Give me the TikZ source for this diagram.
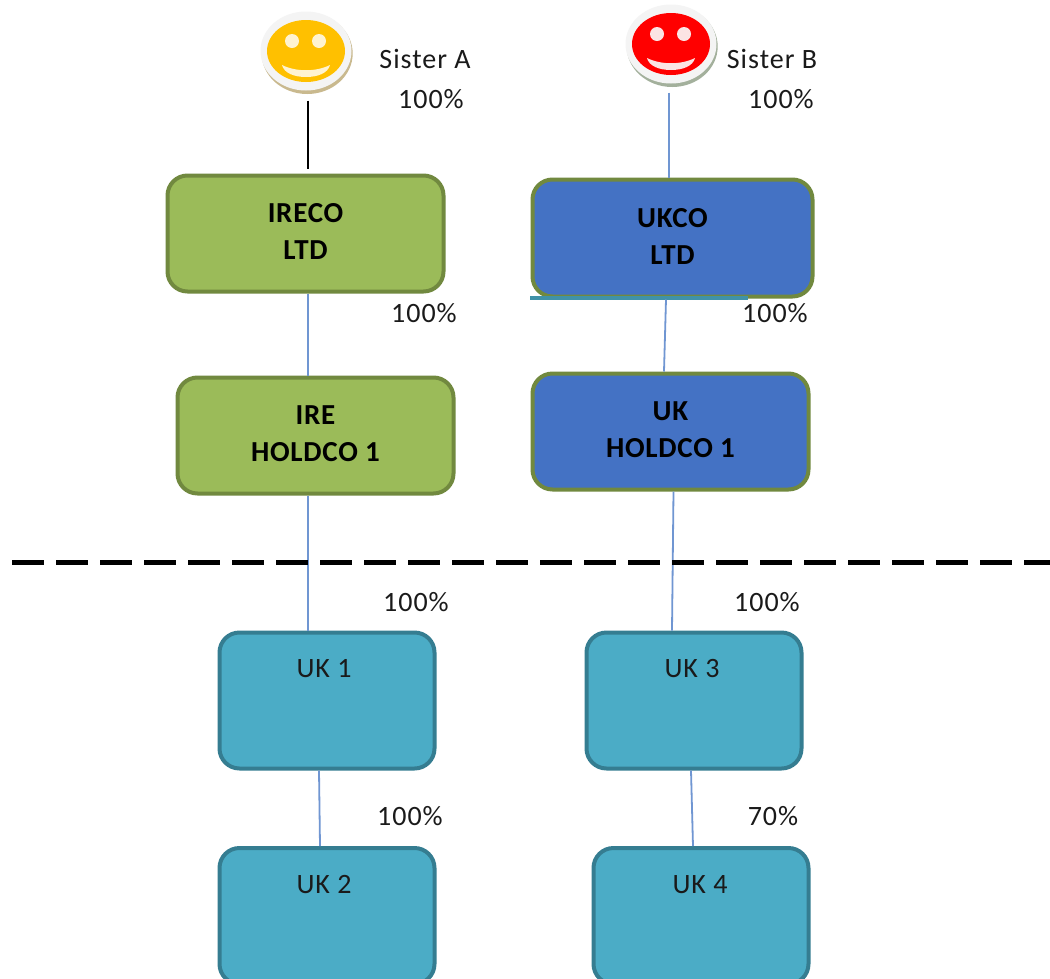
\documentclass[tikz,border=0pt]{standalone}
\usetikzlibrary{shapes.geometric}
\usepackage{fontspec}
\setmainfont{Carlito}
\newfontfamily\lblfont[LetterSpace=3.5]{Carlito}
\newfontfamily\boldlbl[LetterSpace=2.5]{Carlito Bold}
\definecolor{grnfill}{HTML}{9BBB59}
\definecolor{grnline}{HTML}{71893F}
\definecolor{bluefill}{HTML}{4472C4}
\definecolor{tealfill}{HTML}{4BACC6}
\definecolor{tealline}{HTML}{357D91}
\definecolor{connblue}{HTML}{7096D2}
\definecolor{txt}{HTML}{1A1A1A}
\definecolor{facea}{HTML}{FFC000}
\definecolor{faceb}{HTML}{FF0000}
\definecolor{rima}{HTML}{C9B98E}
\definecolor{rimb}{HTML}{A3B09C}
\definecolor{disccol}{HTML}{F4F4F4}
\definecolor{featcola}{HTML}{FFF3D0}
\definecolor{featcolb}{HTML}{FBE4E4}
\tikzset{
  box/.style={rounded corners=20pt,line width=4pt,inner sep=0pt,align=center,text=black},
  greenbox/.style={box,draw=grnline,fill=grnfill,font=\fontsize{29}{37}\boldlbl},
  bluebox/.style={box,draw=grnline,fill=bluefill,font=\fontsize{29}{37}\boldlbl},
  tealbox/.style={box,draw=tealline,fill=tealfill,minimum width=215pt,minimum height=136pt},
  pct/.style={font=\fontsize{28}{30}\lblfont,text=txt,inner sep=0pt},
  conn/.style={draw=connblue,line width=1.8pt},
  disc/.style={ellipse,fill=disccol,draw=none,minimum width=91pt,minimum height=79pt,inner sep=0pt},
}
\newcommand{\smiley}[5]{% name, x, y, face colour, rim colour
  \fill[#5] (#2+1.2,#3+2.5) ellipse (45.5pt and 40.5pt);
  \node[disc,fill=disccol] (#1) at (#2,#3) {};
  \fill[#4] (#2,#3) ellipse (39pt and 31pt);
  \fill[white,fill=featcol#1] (#2-14,#3-10) ellipse (7pt and 7pt);
  \fill[white,fill=featcol#1] (#2+13,#3-10) ellipse (7pt and 7pt);
  \fill[fill=featcol#1] (#2-24,#3+14) .. controls (#2-10,#3+21) and (#2+10,#3+21) .. (#2+24,#3+14)
     .. controls (#2+22,#3+22) and (#2+12,#3+26) .. (#2,#3+26)
     .. controls (#2-12,#3+26) and (#2-22,#3+22) .. (#2-24,#3+14) -- cycle;
}
\colorlet{featcolsistera}{featcola}
\colorlet{featcolsisterb}{featcolb}
\begin{document}
\begin{tikzpicture}[x=1pt,y=-1pt]
\clip (0,0) rectangle (1050,978);
\fill[white] (0,0) rectangle (1050,978);

\smiley{sistera}{306}{51}{facea}{rima}
\smiley{sisterb}{671}{44}{faceb}{rimb}

\node[greenbox,minimum width=276pt,minimum height=116pt] (ireco) at (305.5,233.5) {\raisebox{4pt}{IRECO}\\\raisebox{4pt}{LTD}};
\node[bluebox,minimum width=280pt,minimum height=117pt] (ukco) at (672.5,238) {\raisebox{4pt}{UKCO}\\\raisebox{4pt}{LTD}};
\node[greenbox,minimum width=276pt,minimum height=116pt] (ire) at (315.5,435.5) {\raisebox{4pt}{IRE}\\\raisebox{4pt}{HOLDCO 1}};
\node[bluebox,minimum width=276pt,minimum height=116pt] (ukh) at (670.5,431.5) {\raisebox{4pt}{UK}\\\raisebox{4pt}{HOLDCO 1}};

\node[tealbox] (uk1) at (327,700.5) {};
\node[tealbox] (uk3) at (694,700.5) {};
\node[tealbox] (uk2) at (327,916) {};
\node[tealbox] (uk4) at (701,916) {};
\node[pct] (uk1t) at (324,669) {UK 1};
\node[pct] (uk3t) at (692,669) {UK 3};
\node[pct] (uk2t) at (324,885) {UK 2};
\node[pct] (uk4t) at (700,885) {UK 4};

\coordinate (ukline1) at (530,297.5);
\coordinate (ukline2) at (748,297.5);
\draw[tealfill!85!black,line width=4pt] (ukline1) -- (ukline2);

\draw[black,line width=1.6pt] ([xshift=2pt,yshift=-10pt]sistera.south) -- ([xshift=2.5pt,yshift=5pt]ireco.north);
\draw[conn] (sisterb.south -| ukco.north) ++(-3.5,9) coordinate (sb) -- ([xshift=-3.5pt]ukco.north);
\draw[conn] ([xshift=2.5pt]ireco.south) -- ([xshift=-7.5pt]ire.north);
\draw[conn] ([xshift=-6.5pt,yshift=-1pt]ukco.south) -- ([xshift=-6.5pt]ukh.north);
\draw[conn] ([xshift=-7.5pt]ire.south) -- ([xshift=-19pt]uk1.north);
\draw[conn] ([xshift=3pt]ukh.south) -- ([xshift=-22pt]uk3.north);
\draw[conn] ([xshift=-8pt]uk1.south) -- ([xshift=-7pt]uk2.north);
\draw[conn] ([xshift=-3pt]uk3.south) -- ([xshift=-8pt]uk4.north);

\coordinate (dashl) at (12,562.5);
\coordinate (dashr) at (1050,562.5);
\draw[black,line width=5pt,dash pattern=on 32pt off 12pt] (dashl) -- (dashr);

\node[pct] (la) at (425,59) {Sister A};
\node[pct] (lb) at (772,59) {Sister B};
\node[pct] (p1) at (431,99) {100\%};
\node[pct] (p2) at (781,99) {100\%};
\node[pct] (p3) at (424,313) {100\%};
\node[pct] (p4) at (775,313) {100\%};
\node[pct] (p5) at (416,602) {100\%};
\node[pct] (p6) at (767,602) {100\%};
\node[pct] (p7) at (410,816) {100\%};
\node[pct] (p8) at (773,816) {70\%};
\end{tikzpicture}
\end{document}
